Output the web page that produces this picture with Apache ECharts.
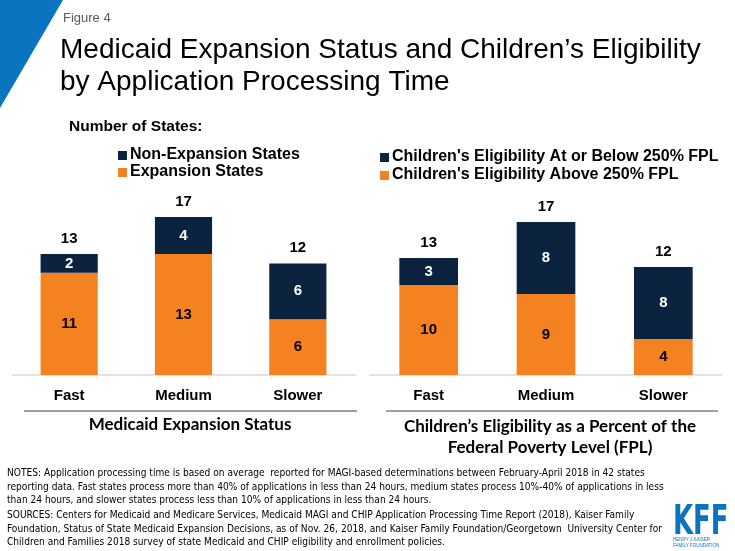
<!DOCTYPE html>
<html>
<head>
<meta charset="utf-8">
<script src="https://cdn.jsdelivr.net/npm/echarts@6/dist/echarts.min.js"></script>
<style>
html,body{margin:0;padding:0;background:#fff;}
#chart{width:735px;height:551px;}
</style>
</head>
<body>
<div id="chart"></div>
<script>
var categories = ['Fast', 'Medium', 'Slower'];
var expansionStates = [11, 13, 6];
var nonExpansionStates = [2, 4, 6];
var eligAbove250 = [10, 9, 4];
var eligAtOrBelow250 = [3, 8, 8];

var leftTotals = expansionStates.map(function(v, i){ return v + nonExpansionStates[i]; });
var rightTotals = eligAbove250.map(function(v, i){ return v + eligAtOrBelow250[i]; });

var ORANGE = '#F58220';
var NAVY = '#0C2340';
var FONT = 'Liberation Sans, Arial, sans-serif';

var chart = echarts.init(document.getElementById('chart'), null, {renderer: 'canvas'});

function segLabel(color){
  return {show: true, position: 'inside', color: color, fontFamily: FONT, fontWeight: 'bold', fontSize: 15};
}
function totalLabel(totals){
  return {show: true, position: 'top', distance: 8, color: '#000', fontFamily: FONT, fontWeight: 'bold', fontSize: 15,
    formatter: function(p){ return totals[p.dataIndex]; }};
}
var xAxisCommon = {
  type: 'category', data: categories,
  axisLine: {lineStyle: {color: '#d9d9d9', width: 1.5}},
  axisTick: {show: false},
  axisLabel: {color: '#000', fontFamily: FONT, fontWeight: 'bold', fontSize: 15, margin: 13}
};

var notes = [
  'NOTES: Application processing time is based on average  reported for MAGI-based determinations between February-April 2018 in 42 states',
  'reporting data. Fast states process more than 40% of applications in less than 24 hours, medium states process 10%-40% of applications in less',
  'than 24 hours, and slower states process less than 10% of applications in less than 24 hours.'
];
var sources = [
  'SOURCES: Centers for Medicaid and Medicare Services, Medicaid MAGI and CHIP Application Processing Time Report (2018), Kaiser Family',
  'Foundation, Status of State Medicaid Expansion Decisions, as of Nov. 26, 2018, and Kaiser Family Foundation/Georgetown  University Center for',
  'Children and Families 2018 survey of state Medicaid and CHIP eligibility and enrollment policies.'
];
var noteFont = '10.1px "DejaVu Sans Condensed", "Liberation Sans", sans-serif';

var graphics = [
  {type: 'polygon', shape: {points: [[0,0],[63,0],[0,108]]}, style: {fill: '#0B74C1'}},
  {type: 'text', left: 63, top: 12, style: {text: 'Figure 4', fill: '#595959', font: '13px ' + FONT}},
  {type: 'text', left: 60, top: 34, style: {text: 'Medicaid Expansion Status and Children\u2019s Eligibility\nby Application Processing Time', fill: '#000', font: '28px ' + FONT, lineHeight: 32}},
  {type: 'text', left: 69, top: 119, style: {text: 'Number of States:', fill: '#000', font: 'bold 15.5px ' + FONT}},
  {type: 'rect', shape: {x: 118, y: 151, width: 9, height: 9}, style: {fill: NAVY}},
  {type: 'text', left: 130, top: 147, style: {text: 'Non-Expansion States', fill: '#000', font: 'bold 16px ' + FONT}},
  {type: 'rect', shape: {x: 118, y: 168, width: 9, height: 9}, style: {fill: ORANGE}},
  {type: 'text', left: 130, top: 164, style: {text: 'Expansion States', fill: '#000', font: 'bold 16px ' + FONT}},
  {type: 'rect', shape: {x: 380, y: 153, width: 9, height: 9}, style: {fill: NAVY}},
  {type: 'text', left: 392, top: 149, style: {text: "Children's Eligibility At or Below 250% FPL", fill: '#000', font: 'bold 16px ' + FONT}},
  {type: 'rect', shape: {x: 380, y: 171, width: 9, height: 9}, style: {fill: ORANGE}},
  {type: 'text', left: 392, top: 167, style: {text: "Children's Eligibility Above 250% FPL", fill: '#000', font: 'bold 16px ' + FONT}},
  {type: 'line', shape: {x1: 24, y1: 411, x2: 357, y2: 411}, style: {stroke: '#404040', lineWidth: 1.2}},
  {type: 'line', shape: {x1: 386, y1: 411, x2: 718, y2: 411}, style: {stroke: '#404040', lineWidth: 1.2}},
  {type: 'text', x: 190, y: 416, style: {text: 'Medicaid Expansion Status', fill: '#000', font: 'bold 17px Lato, sans-serif', textAlign: 'center'}},
  {type: 'text', x: 550, y: 416, style: {text: 'Children\u2019s Eligibility as a Percent of the\nFederal Poverty Level (FPL)', fill: '#000', font: 'bold 17px Lato, sans-serif', textAlign: 'center', lineHeight: 21}},
  {type: 'text', left: 7, top: 467, style: {text: notes.join('\n'), fill: '#000', font: noteFont, lineHeight: 13.5}},
  {type: 'text', left: 7, top: 509, style: {text: sources.join('\n'), fill: '#000', font: noteFont, lineHeight: 13.5}},
  {type: 'text', x: 673, y: 504, scaleX: 0.72, style: {text: 'KFF', fill: '#0B74C1', font: 'bold 40px "DejaVu Sans Condensed", sans-serif'}},
  {type: 'text', left: 673, top: 537, style: {text: 'HENRY J KAISER\nFAMILY FOUNDATION', fill: '#0B74C1', font: '4.5px ' + FONT, lineHeight: 6}}
];

chart.setOption({
  animation: false,
  backgroundColor: '#fff',
  grid: [
    {left: 12, width: 343, top: 189, height: 186},
    {left: 370, width: 352, top: 195, height: 180}
  ],
  xAxis: [
    Object.assign({gridIndex: 0}, xAxisCommon),
    Object.assign({gridIndex: 1}, xAxisCommon)
  ],
  yAxis: [
    {gridIndex: 0, type: 'value', min: 0, max: 20, show: false},
    {gridIndex: 1, type: 'value', min: 0, max: 20, show: false}
  ],
  series: [
    {name: 'Expansion States', type: 'bar', stack: 'L', xAxisIndex: 0, yAxisIndex: 0, barWidth: '50%', data: expansionStates, itemStyle: {color: ORANGE}, label: segLabel('#000')},
    {name: 'Non-Expansion States', type: 'bar', stack: 'L', xAxisIndex: 0, yAxisIndex: 0, barWidth: '50%', data: nonExpansionStates, itemStyle: {color: NAVY}, label: segLabel('#fff')},
    {name: 'TotalL', type: 'bar', stack: 'L', xAxisIndex: 0, yAxisIndex: 0, barWidth: '50%', data: leftTotals.map(function(){return 0;}), itemStyle: {color: 'transparent'}, label: totalLabel(leftTotals)},
    {name: "Children's Eligibility Above 250% FPL", type: 'bar', stack: 'R', xAxisIndex: 1, yAxisIndex: 1, barWidth: '50%', data: eligAbove250, itemStyle: {color: ORANGE}, label: segLabel('#000')},
    {name: "Children's Eligibility At or Below 250% FPL", type: 'bar', stack: 'R', xAxisIndex: 1, yAxisIndex: 1, barWidth: '50%', data: eligAtOrBelow250, itemStyle: {color: NAVY}, label: segLabel('#fff')},
    {name: 'TotalR', type: 'bar', stack: 'R', xAxisIndex: 1, yAxisIndex: 1, barWidth: '50%', data: rightTotals.map(function(){return 0;}), itemStyle: {color: 'transparent'}, label: totalLabel(rightTotals)}
  ],
  graphic: graphics
});
</script>
</body>
</html>
